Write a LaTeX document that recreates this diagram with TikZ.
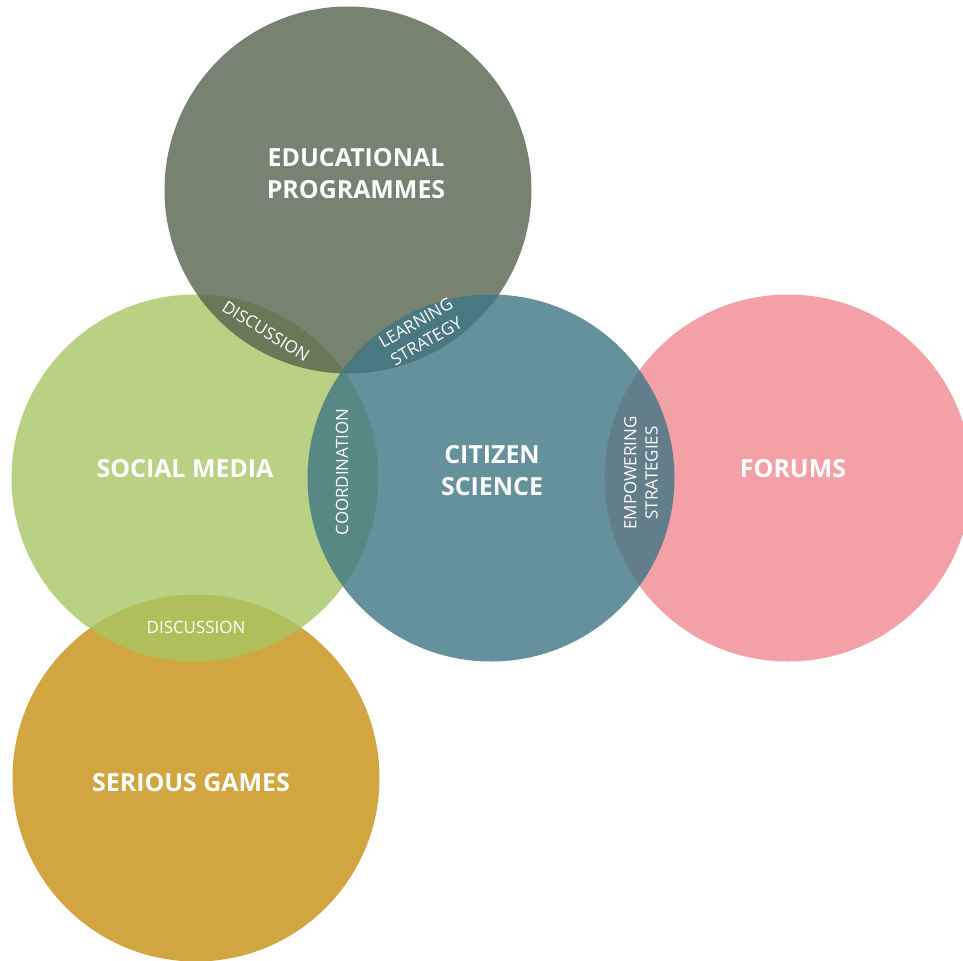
\documentclass[tikz,border=0pt]{standalone}
\usepackage{fontspec}
\setsansfont{Open Sans}
\usepackage{tikz}
\usetikzlibrary{positioning}
\usepackage{xcolor}
\definecolor{vdedu}{RGB}{85,100,76}
\definecolor{vdsocial}{RGB}{168,198,100}
\definecolor{vdcitizen}{RGB}{63,118,133}
\definecolor{vdforums}{RGB}{240,138,144}
\definecolor{vdgames}{RGB}{198,143,15}
\tikzstyle{bubble} = [circle, minimum size=275.25pt, inner sep=0pt, fill opacity=0.8]
\tikzstyle{title} = [text=white, font=\sffamily\bfseries\fontsize{18.7}{24}\selectfont, align=center]
\tikzstyle{overlap} = [text=white, font=\sffamily\fontsize{12.7}{16}\selectfont, align=center, inner sep=0pt]
\begin{document}
\begin{tikzpicture}[x=0.75pt, y=-0.75pt]
\useasboundingbox (0,0) rectangle (963,960);

% Circles, back to front
\node (games) [bubble, fill=vdgames] at (196,778) {};
\node (social) [bubble, fill=vdsocial] at (195,478) {};
\node (edu) [bubble, fill=vdedu] at (348,190) {};
\node (forums) [bubble, fill=vdforums] at (788,478) {};
\node (citizen) [bubble, fill=vdcitizen] at (491,478) {};

% Titles
\node (edutitle) [title] at (356,174) {EDUCATIONAL\\PROGRAMMES};
\node (socialtitle) [title] at (185,469) {SOCIAL MEDIA};
\node (citizentitle) [title] at (492,471) {CITIZEN\\SCIENCE};
\node (forumstitle) [title] at (793,469) {FORUMS};
\node (gamestitle) [title] at (191,783) {SERIOUS GAMES};

% Overlaps
\node (discussa) [overlap, rotate=-32] at (266,331) {DISCUSSION};
\node (learning) [overlap, rotate=30] at (421,332) {LEARNING\\STRATEGY};
\node (coord) [overlap, rotate=90] at (342,472) {COORDINATION};
\node (empower) [overlap, rotate=90] at (641,473) {EMPOWERING\\STRATEGIES};
\node (discussb) [overlap] at (196,627) {DISCUSSION};
\end{tikzpicture}
\end{document}
